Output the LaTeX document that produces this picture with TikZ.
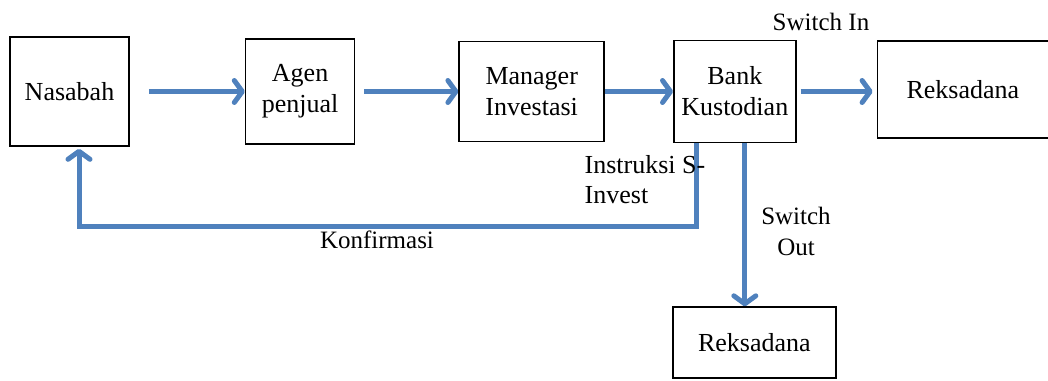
\documentclass[tikz,border=0pt]{standalone}
\usepackage{fontspec}
\setmainfont{Liberation Serif}
\usetikzlibrary{positioning,arrows.meta}
\definecolor{flowblue}{RGB}{79,129,189}

\begin{document}
\begin{tikzpicture}[x=1bp,y=1bp,node distance=100bp,thick]
	\tikzset{
		box/.style={draw=black,line width=1.6bp,rectangle,align=center,inner sep=2bp,font=\fontsize{26bp}{31bp}\selectfont},
		flow/.style={draw=flowblue,line width=5bp,-{Straight Barb[length=8bp,width=22bp,round]}},
		lbl/.style={font=\fontsize{25bp}{31bp}\selectfont,align=center}
	}
	\useasboundingbox (0,0) rectangle (1048,-380);

	\node[box,minimum width=119bp,minimum height=109bp] (nasabah) at (69.5,-91.5) {Nasabah};
	\node[box,minimum width=109bp,minimum height=105bp] (agen) [right=115bp of nasabah] {Agen\\penjual};
	\node[box,minimum width=145bp,minimum height=100bp] (manager) [right=103bp of agen] {Manager\\Investasi};
	\node[box,minimum width=122bp,minimum height=102bp] (bank) [right=68bp of manager] {Bank\\Kustodian};
	\node[box,minimum width=171bp,minimum height=97bp] (reksIn) [right=80bp of bank,yshift=2bp] {Reksadana};
	\node[box,minimum width=163bp,minimum height=71bp] (reksOut) [below=163bp of bank,xshift=19.5bp] {Reksadana};

	% main flow
	\draw[flow,shorten <=19bp] (nasabah) -- (agen);
	\draw[flow,shorten <=9bp] (agen) -- (manager);
	\draw[flow] (manager) -- (bank);
	\draw[flow,shorten <=4bp,shorten >=4bp] (bank) -- (bank -| reksIn.west);

	% back to the customer and switch out
	\draw[flow] ([xshift=-38bp]bank.south) -- ++(0,-83) -| ([xshift=9.5bp,yshift=-2bp]nasabah.south);
	\draw[flow] ([xshift=10bp]bank.south) -- ([xshift=10bp]bank.south |- reksOut.north);

	\node[lbl] (switchIn) at (821,-22) {Switch In};
	\node[lbl] (switchOut) at (796,-231) {Switch\\Out};
	\node[lbl] (konfirmasi) at (377,-240) {Konfirmasi};
	\node[lbl,align=left,anchor=west,font=\fontsize{26bp}{30bp}\selectfont] (instruksi) at (581,-180) {Instruksi S-\\Invest};
\end{tikzpicture}
\end{document}
